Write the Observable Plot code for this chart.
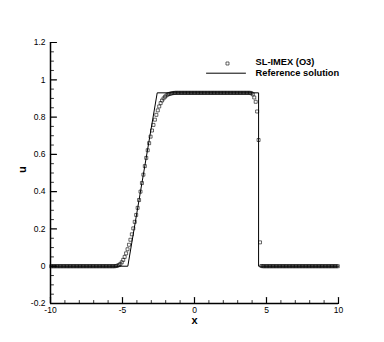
<!DOCTYPE html>
<html><head><meta charset="utf-8">
<script src="https://cdn.jsdelivr.net/npm/d3@7"></script>
<script src="https://cdn.jsdelivr.net/npm/@observablehq/plot@0.6"></script>
<style>html,body{margin:0;padding:0;background:#fff;overflow:hidden}</style>
</head><body><div id="chart"></div>
<script>
// tick values
const xMajor = [-10, -5, 0, 5, 10];
const xMinor = [-9, -8, -7, -6, -4, -3, -2, -1, 1, 2, 3, 4, 6, 7, 8, 9];
const yMajor = [-0.2, 0, 0.2, 0.4, 0.6, 0.8, 1, 1.2];
const yMinor = [-0.15, -0.1, -0.05, 0.05, 0.1, 0.15, 0.25, 0.3, 0.35, 0.45, 0.5, 0.55,
                0.65, 0.7, 0.75, 0.85, 0.9, 0.95, 1.05, 1.1, 1.15];

// reference solution (piecewise linear)
const refX = [-10, -4.63, -2.59, 4.45, 4.45, 10];
const refU = [0, 0, 0.93, 0.93, 0, 0];

// numerical solution SL-IMEX (O3) on cell centres -9.95 ... 9.95 (step 0.1)
const gridStart = -9.95;
const gridStep = 0.1;
const numU = [
  0,0,0,0,0,0,0,0,0,0,
  0,0,0,0,0,0,0,0,0,0,
  0,0,0,0,0,0,0,0,0,0,
  0,0,0,0,0,0,0,0,0,0,
  0,0,0,0,0.000,0.001,0.003,0.006,0.012,0.021,
  0.034,0.050,0.069,0.091,0.115,0.142,0.171,0.203,0.238,0.275,
  0.313,0.355,0.400,0.446,0.491,0.537,0.581,0.622,0.660,0.695,
  0.728,0.758,0.786,0.812,0.836,0.857,0.875,0.889,0.900,0.909,
  0.916,0.921,0.924,0.926,0.928,0.929,0.93,0.93,0.93,0.93,
  0.93,0.93,0.93,0.93,0.93,0.93,0.93,0.93,0.93,0.93,
  0.93,0.93,0.93,0.93,0.93,0.93,0.93,0.93,0.93,0.93,
  0.93,0.93,0.93,0.93,0.93,0.93,0.93,0.93,0.93,0.93,
  0.93,0.93,0.93,0.93,0.93,0.93,0.93,0.93,0.93,0.93,
  0.93,0.93,0.93,0.93,0.93,0.93,0.93,0.93,0.93,0.928,
  0.922,0.905,0.882,0.830,0.677,0.128,0.001,0,0,0,
  0,0,0,0,0,0,0,0,0,0,
  0,0,0,0,0,0,0,0,0,0,
  0,0,0,0,0,0,0,0,0,0,
  0,0,0,0,0,0,0,0,0,0,
  0,0,0,0,0,0,0,0,0,0
];

const legendLabels = ["SL-IMEX (O3)", "Reference solution"];

const numData = numU.map((u, i) => ({x: +(gridStart + i * gridStep).toFixed(2), u}));
const refData = refX.map((x, i) => ({x, u: refU[i]}));

const fmtY = d => String(+d.toFixed(1));
const lineShape = {draw(ctx, l) { ctx.moveTo(0, 0); ctx.lineTo(0, -l); }};

const chart = Plot.plot({
  width: 384,
  height: 342,
  marginLeft: 50,
  marginRight: 46,
  marginTop: 42,
  marginBottom: 39,
  style: {fontFamily: "'Liberation Sans', Arial, sans-serif", fontSize: "8.5px", color: "black", background: "white"},
  x: {domain: [-10, 10]},
  y: {domain: [-0.2, 1.2]},
  marks: [
    // tick labels
    Plot.axisX(xMajor, {anchor: "bottom", tickSize: 0, tickPadding: 3, tickFormat: d => String(d), label: null}),
    Plot.axisY(yMajor, {anchor: "left", tickSize: 0, tickPadding: 5, tickFormat: fmtY, label: null}),
    // inward ticks
    Plot.vector(xMajor, {x: d => d, frameAnchor: "bottom", length: 6, anchor: "start", shape: lineShape, stroke: "black", strokeWidth: 1.2}),
    Plot.vector(xMinor, {x: d => d, frameAnchor: "bottom", length: 3, anchor: "start", shape: lineShape, stroke: "black", strokeWidth: 0.8}),
    Plot.vector(yMajor, {y: d => d, frameAnchor: "left", rotate: 90, length: 6, anchor: "start", shape: lineShape, stroke: "black", strokeWidth: 1.2}),
    Plot.vector(yMinor, {y: d => d, frameAnchor: "left", rotate: 90, length: 3, anchor: "start", shape: lineShape, stroke: "black", strokeWidth: 0.8}),
    // axis lines
    Plot.ruleX([-10], {stroke: "black", strokeWidth: 1.5}),
    Plot.ruleY([-0.2], {stroke: "black", strokeWidth: 1.5}),
    // axis titles
    Plot.text(["x"], {frameAnchor: "bottom", dy: 20, fontWeight: "bold", fontSize: 11, fill: "black"}),
    Plot.text(["u"], {frameAnchor: "left", dx: -28, rotate: -90, fontWeight: "bold", fontSize: 11, fill: "black"}),
    // data
    Plot.line(refData, {x: "x", y: "u", stroke: "black", strokeWidth: 1}),
    Plot.dot(numData, {x: "x", y: "u", symbol: "square", r: 1.7, stroke: "black", strokeWidth: 0.6, fill: "none"}),
    // legend
    Plot.dot([legendLabels[0]], {frameAnchor: "top-left", dx: 177, dy: 21, symbol: "square", r: 1.7, stroke: "black", strokeWidth: 0.6, fill: "none"}),
    Plot.vector([legendLabels[1]], {frameAnchor: "top-left", dx: 156, dy: 30.7, length: 39, rotate: 90, anchor: "start", shape: lineShape, stroke: "black", strokeWidth: 1}),
    Plot.text([legendLabels[0]], {frameAnchor: "top-left", text: d => d, dx: 205, dy: 19.7, textAnchor: "start", fontWeight: "bold", fontSize: 9.3, fill: "black", lineAnchor: "middle"}),
    Plot.text([legendLabels[1]], {frameAnchor: "top-left", text: d => d, dx: 205, dy: 30.3, textAnchor: "start", fontWeight: "bold", fontSize: 9.3, fill: "black", lineAnchor: "middle"})
  ]
});
document.getElementById("chart").appendChild(chart);
</script>
</body></html>
